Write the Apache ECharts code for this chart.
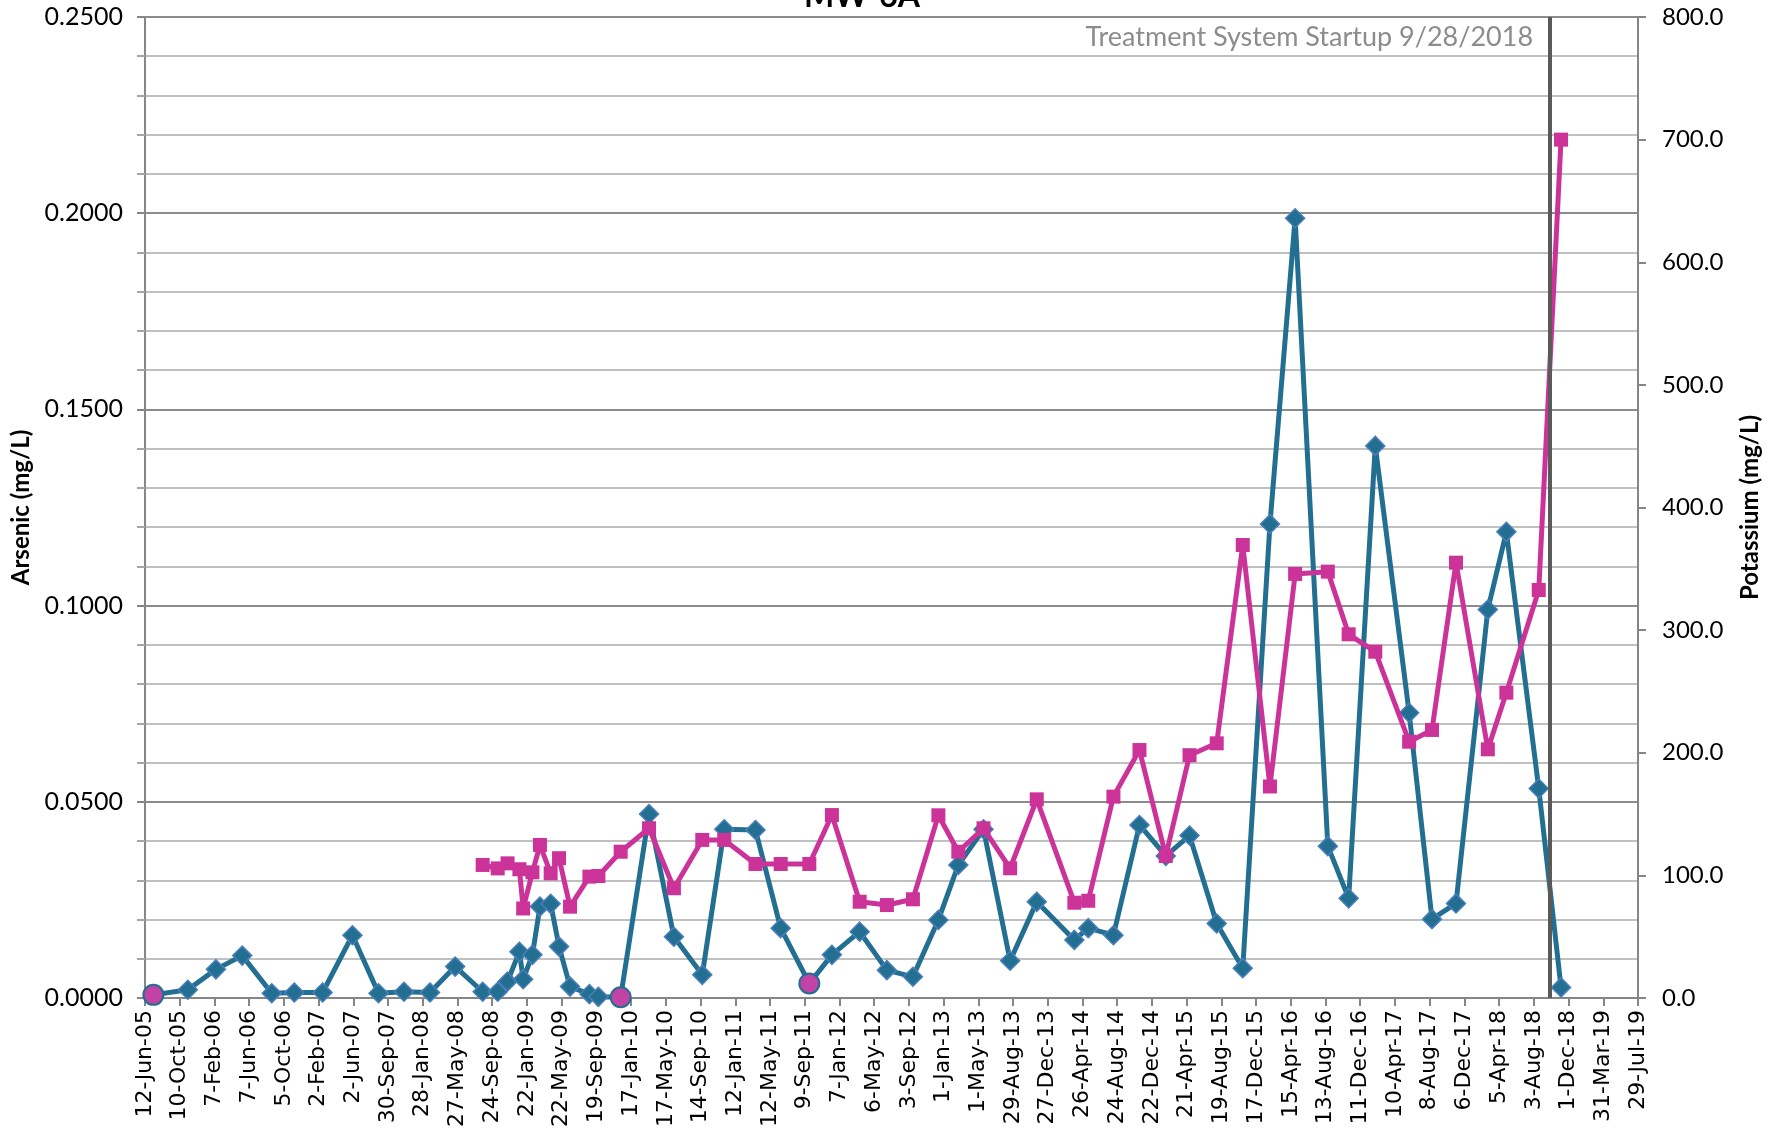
<!DOCTYPE html>
<html>
<head>
<meta charset="utf-8">
<title>MW-6A</title>
<script src="https://cdn.jsdelivr.net/npm/echarts@6.0.0/dist/echarts.min.js"></script>
<style>
  html, body { margin: 0; padding: 0; background: #fff; }
  #chart { width: 1777px; height: 1133px; }
</style>
</head>
<body>
<div id="chart"></div>
<script>
(function () {
	'use strict';

	// sample dates (yyyy-mm-dd)
	var sampleDates = [
		'2005-07-11', '2005-11-07',
		'2006-02-12', '2006-05-14', '2006-08-24', '2006-11-10',
		'2007-02-16', '2007-05-30', '2007-08-28', '2007-11-24',
		'2008-02-22', '2008-05-19', '2008-08-22', '2008-10-13', '2008-11-16', '2008-12-27',
		'2009-01-09', '2009-02-10', '2009-03-08', '2009-04-14', '2009-05-13', '2009-06-20',
		'2009-08-26', '2009-09-26', '2009-12-12',
		'2010-03-20', '2010-06-14', '2010-09-20', '2010-12-05',
		'2011-03-23', '2011-06-18', '2011-09-25', '2011-12-12',
		'2012-03-17', '2012-06-19', '2012-09-17', '2012-12-14',
		'2013-02-21', '2013-05-19', '2013-08-19', '2013-11-19',
		'2014-03-29', '2014-05-16', '2014-08-11', '2014-11-09',
		'2015-02-08', '2015-05-01', '2015-08-03', '2015-11-01',
		'2016-02-03', '2016-04-30', '2016-08-21', '2016-11-01',
		'2017-02-01', '2017-05-29', '2017-08-16', '2017-11-07',
		'2018-02-25', '2018-04-30', '2018-08-20', '2018-11-05'
	];

	var arsenic = [
		0.0008, 0.0021,
		0.0073, 0.0108, 0.0012, 0.0014,
		0.0014, 0.0160, 0.0012, 0.0016,
		0.0014, 0.0080, 0.0016, 0.0016, 0.0042, 0.0118,
		0.0048, 0.0110, 0.0233, 0.0240, 0.0131, 0.0029,
		0.0010, 0.0003, 0.0002,
		0.0469, 0.0156, 0.0059, 0.0430,
		0.0428, 0.0178, 0.0037, 0.0110,
		0.0169, 0.0071, 0.0054, 0.0199,
		0.0339, 0.0430, 0.0095, 0.0245,
		0.0148, 0.0178, 0.0160, 0.0441,
		0.0362, 0.0414, 0.0190, 0.0076,
		0.1208, 0.1987, 0.0387, 0.0254,
		0.1407, 0.0727, 0.0201, 0.0241,
		0.0990, 0.1188, 0.0534, 0.0027
	];

	// non-detects, drawn as circles
	var arsenicND = [
		true, false,
		false, false, false, false,
		false, false, false, false,
		false, false, false, false, false, false,
		false, false, false, false, false, false,
		false, false, true,
		false, false, false, false,
		false, false, true, false,
		false, false, false, false,
		false, false, false, false,
		false, false, false, false,
		false, false, false, false,
		false, false, false, false,
		false, false, false, false,
		false, false, false, false
	];

	var potassium = [
		null, null,
		null, null, null, null,
		null, null, null, null,
		null, null, 108.5, 105.7, 109.8, 105.0,
		73.0, 102.5, 124.8, 101.7, 114.0, 74.5,
		99.0, 99.5, 119.3,
		138.4, 89.5, 128.9, 128.9,
		109.3, 109.3, 109.3, 149.2,
		78.5, 75.8, 80.5, 149.0,
		119.3, 138.4, 105.8, 162.0,
		77.7, 79.3, 164.2, 202.2,
		115.8, 198.0, 207.7, 369.4,
		172.5, 345.8, 347.7, 296.6,
		282.4, 209.0, 218.6, 355.0,
		202.8, 249.0, 332.7, 700.0
	];

	var xTickLabels = [
		'12-Jun-05', '10-Oct-05', '7-Feb-06', '7-Jun-06', '5-Oct-06', '2-Feb-07',
		'2-Jun-07', '30-Sep-07', '28-Jan-08', '27-May-08', '24-Sep-08', '22-Jan-09',
		'22-May-09', '19-Sep-09', '17-Jan-10', '17-May-10', '14-Sep-10', '12-Jan-11',
		'12-May-11', '9-Sep-11', '7-Jan-12', '6-May-12', '3-Sep-12', '1-Jan-13',
		'1-May-13', '29-Aug-13', '27-Dec-13', '26-Apr-14', '24-Aug-14', '22-Dec-14',
		'21-Apr-15', '19-Aug-15', '17-Dec-15', '15-Apr-16', '13-Aug-16', '11-Dec-16',
		'10-Apr-17', '8-Aug-17', '6-Dec-17', '5-Apr-18', '3-Aug-18', '1-Dec-18',
		'31-Mar-19', '29-Jul-19'
	];

	var startupDate = '2018-09-28';
	var startupText = 'Treatment System Startup 9/28/2018';

	// x axis runs in days since the first tick
	var BASE = Date.UTC(2005, 5, 12);
	var TICK_DAYS = 120;

	function dayOf(s) {
		var p = s.split('-');
		return (Date.UTC(+p[0], +p[1] - 1, +p[2]) - BASE) / 86400000;
	}

	var BLUE = '#236f91';
	var PINK = '#cc3399';
	var labelFont = 'Lato, "Open Sans", sans-serif';

	var arsenicData = sampleDates.map(function (d, i) {
		var item = { value: [dayOf(d), arsenic[i]] };
		if (arsenicND[i]) {
			item.symbol = 'circle';
			item.symbolSize = 20;
			item.itemStyle = { color: '#c043a5', borderColor: BLUE, borderWidth: 2 };
		}
		return item;
	});

	var potassiumData = sampleDates.map(function (d, i) {
		return [dayOf(d), potassium[i]];
	});

	var chart = echarts.init(document.getElementById('chart'));

	var option = {
		animation: false,
		backgroundColor: '#fff',
		grid: { left: 145, right: 139, top: 17, bottom: 135 },
		xAxis: {
			type: 'value',
			min: 0,
			max: TICK_DAYS * (xTickLabels.length - 1),
			interval: TICK_DAYS,
			axisLine: { show: true, lineStyle: { color: '#868686', width: 2 } },
			axisTick: { show: true, length: 8, lineStyle: { color: '#868686', width: 2 } },
			splitLine: { show: false },
			axisLabel: {
				rotate: 90,
				margin: 12,
				color: '#000',
				fontFamily: '"DejaVu Sans", sans-serif',
				fontSize: 22,
				showMinLabel: true,
				showMaxLabel: true,
				formatter: function (v) {
					return xTickLabels[Math.round(v / TICK_DAYS)] || '';
				}
			}
		},
		yAxis: [{
			type: 'value',
			min: 0,
			max: 0.25,
			interval: 0.05,
			name: 'Arsenic (mg/L)',
			nameLocation: 'middle',
			nameRotate: 90,
			nameGap: 108,
			nameTextStyle: { fontFamily: labelFont, fontWeight: 'bold', fontSize: 24, color: '#000' },
			axisLine: { show: true, lineStyle: { color: '#868686', width: 2 } },
			axisTick: { show: true, length: 8, lineStyle: { color: '#868686', width: 2 } },
			minorTick: { show: true, splitNumber: 5, length: 8, lineStyle: { color: '#a6a6a6', width: 2 } },
			splitLine: { show: true, lineStyle: { color: '#8c8c8c', width: 2 } },
			minorSplitLine: { show: true, lineStyle: { color: '#c0c0c0', width: 2 } },
			axisLabel: {
				margin: 22,
				color: '#000',
				fontFamily: labelFont,
				fontSize: 25,
				formatter: function (v) { return v.toFixed(4); }
			}
		}, {
			type: 'value',
			position: 'right',
			min: 0,
			max: 800,
			interval: 100,
			name: 'Potassium (mg/L)',
			nameLocation: 'middle',
			nameRotate: 90,
			nameGap: 100,
			nameTextStyle: { fontFamily: labelFont, fontWeight: 'bold', fontSize: 24, color: '#000' },
			axisLine: { show: true, lineStyle: { color: '#868686', width: 2 } },
			axisTick: { show: true, length: 8, lineStyle: { color: '#868686', width: 2 } },
			splitLine: { show: false },
			axisLabel: {
				margin: 24,
				color: '#000',
				fontFamily: labelFont,
				fontSize: 24,
				formatter: function (v) { return v.toFixed(1); }
			}
		}],
		series: [{
			name: 'Arsenic',
			type: 'line',
			yAxisIndex: 0,
			z: 2,
			symbol: 'diamond',
			symbolSize: 19,
			lineStyle: { color: BLUE, width: 5 },
			itemStyle: { color: BLUE, borderColor: '#4a7ebb', borderWidth: 1.5 },
			data: arsenicData,
			markLine: {
				silent: true,
				symbol: ['none', 'none'],
				label: { show: false },
				lineStyle: { color: '#5a5a5a', width: 4, type: 'solid' },
				data: [{ xAxis: dayOf(startupDate) }]
			}
		}, {
			name: 'Potassium',
			type: 'line',
			yAxisIndex: 1,
			z: 3,
			symbol: 'rect',
			symbolSize: 14,
			lineStyle: { color: PINK, width: 5 },
			itemStyle: { color: PINK },
			data: potassiumData
		}]
	};

	chart.setOption(option);

	// title and startup note
	var startupX = chart.convertToPixel({ xAxisIndex: 0 }, dayOf(startupDate));
	chart.setOption({
		graphic: [{
			type: 'text',
			x: 862,
			y: -3,
			style: {
				text: 'MW-6A',
				fontFamily: labelFont,
				fontWeight: 'bold',
				fontSize: 32,
				fill: '#000',
				align: 'center',
				verticalAlign: 'middle'
			}
		}, {
			type: 'text',
			x: startupX - 17,
			y: 37,
			style: {
				text: startupText,
				fontFamily: labelFont,
				fontSize: 27,
				fill: '#8c8c8c',
				align: 'right',
				verticalAlign: 'middle'
			}
		}]
	});
})();
</script>
</body>
</html>
